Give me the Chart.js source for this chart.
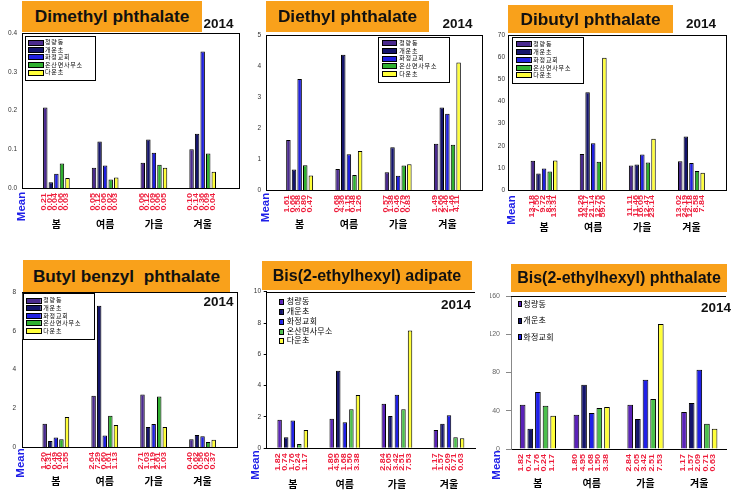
<!DOCTYPE html>
<html><head><meta charset="utf-8">
<script src="https://cdn.jsdelivr.net/npm/chart.js@4"></script>
<style>
html,body{margin:0;padding:0;background:#fff;}
body{width:739px;height:496px;position:relative;overflow:hidden;font-family:"Liberation Sans",Arial,"Noto Sans CJK KR",sans-serif;}
canvas{position:absolute;}
.title{position:absolute;background:#F9A11B;color:#111;font-weight:bold;display:flex;align-items:center;justify-content:center;white-space:pre;z-index:2;}
.yr{position:absolute;font-weight:bold;font-size:13.5px;color:#111;width:40px;text-align:center;line-height:14px;z-index:2;}
</style></head><body>
<canvas id="c1" width="245" height="248" style="left:0;top:0"></canvas>
<canvas id="c2" width="245" height="248" style="left:245px;top:0"></canvas>
<canvas id="c3" width="249" height="248" style="left:490px;top:0"></canvas>
<canvas id="c4" width="245" height="248" style="left:0;top:248px"></canvas>
<canvas id="c5" width="245" height="248" style="left:245px;top:248px"></canvas>
<canvas id="c6" width="249" height="248" style="left:490px;top:248px"></canvas>
<div id="decor"></div>
<script>
const FONT = '"Liberation Sans", Arial, "Noto Sans CJK KR", sans-serif';
const seasons = ['봄','여름','가을','겨울'];
const sites = ['청량동','개운초','화정교회','온산면사무소','다운초'];
const yearLabel = '2014';
const meanWord = 'Mean';

// Dimethyl phthalate  [site][season]
const dmpMean = [[0.21,0.05,0.06,0.10],[0.01,0.12,0.12,0.14],[0.04,0.06,0.09,0.36],[0.06,0.02,0.06,0.09],[0.03,0.03,0.05,0.04]];
const dmpBar  = [[0.208,0.052,0.065,0.100],[0.015,0.120,0.125,0.140],[0.037,0.058,0.091,0.352],[0.063,0.022,0.060,0.089],[0.026,0.027,0.052,0.042]];
const dmpTicks = [0,0.1,0.2,0.3,0.4];
// Diethyl phthalate
const depMean = [[1.61,0.68,0.57,1.49],[0.66,4.36,1.38,2.66],[3.58,1.15,0.46,2.46],[0.80,0.48,0.79,1.46],[0.47,1.26,0.83,4.11]];
const depTicks = [0,1,2,3,4,5];
// Dibutyl phthalate
const dbpMean = [[13.18,16.26,11.11,13.02],[7.50,44.17,11.46,24.19],[9.72,21.14,16.05,12.18],[8.34,12.75,12.47,8.58],[13.31,59.76,23.14,7.84]];
const dbpTicks = [0,10,20,30,40,50,60,70];
// Butyl benzyl phthalate
const bbpMean = [[1.20,2.64,2.71,0.40],[0.31,7.29,1.03,0.62],[0.49,0.60,1.19,0.56],[0.40,1.61,2.61,0.26],[1.55,1.13,1.03,0.37]];
const bbpTicks = [0,2,4,6,8];
// Bis(2-ethylhexyl) adipate
const dehaMean = [[1.82,1.80,2.84,1.17],[0.74,4.95,2.05,1.57],[1.76,1.68,3.42,2.09],[0.24,1.50,2.51,0.71],[1.17,3.38,7.53,0.63]];
const dehaBar  = [[1.82,1.88,2.84,1.17],[0.70,4.96,2.07,1.56],[1.77,1.67,3.42,2.11],[0.28,2.50,2.50,0.70],[1.17,3.40,7.52,0.64]];
const dehaTicks = [0,2,4,6,8,10];
// Bis(2-ethylhexyl) phthalate
const dehpMean = [[1.82,1.80,2.84,1.17],[0.74,4.95,2.05,1.57],[1.76,1.68,3.42,2.09],[0.24,1.50,2.51,0.71],[1.17,3.38,7.53,0.63]];
const dehpBar  = [[46.3,35.8,46.3,38.6],[21.2,67.1,31.3,48.0],[59.5,37.6,72.3,82.8],[45.2,42.8,52.2,26.4],[34.8,43.8,130.8,21.2]];
const dehpTicks = [0,40,80,120,160];

const PAL_A = ['#4A2A8E','#14146B','#2020E0','#30B030','#FFFF3A'];
const PAL_B = ['#5A22B8','#14146B','#2020E8','#4CC04C','#FFFF3A'];

const panels = [
 {el:'c1', ox:0, oy:0, w:245, h:248, title:'Dimethyl phthalate', tbox:[22,1,180,31], tfs:17.3, yr:[218.5,24],
  mean:dmpMean, bar:dmpBar, ticks:dmpTicks, dec:1, area:{l:32,r:228,t:33,b:188}, frame:{type:'box',l:22,r:239},
  tickPad:15, tickLen:0, tickFont:6.5, axisColor:'#000', cat:0.57, barPct:0.8, seasonPad:31, meanXY:[22,206.5],
  legend:{type:'box', box:[25,36,70,44], sx:28, sw:15, ys:[42.7,50,57.3,65.3,72.7], tx:45, n:5, font:6}, pal:PAL_A},
 {el:'c2', ox:245, oy:0, w:245, h:248, title:'Diethyl phthalate', tbox:[266,1,163,31], tfs:17.3, yr:[457.5,24],
  mean:depMean, bar:depMean, ticks:depTicks, dec:0, area:{l:30,r:227,t:35,b:190}, frame:{type:'box',l:21,r:237},
  tickPad:14, tickLen:0, tickFont:6.5, axisColor:'#000', cat:0.57, barPct:0.8, seasonPad:29, meanXY:[21,207.5],
  legend:{type:'box', box:[133.3,36.7,70.7,45], sx:137.3, sw:14.4, ys:[43.3,51,58.7,66.3,74], tx:154.3, n:5, font:6}, pal:PAL_A},
 {el:'c3', ox:490, oy:0, w:249, h:248, title:'Dibutyl phthalate', tbox:[508,5,165,28], tfs:17.3, yr:[701,24],
  mean:dbpMean, bar:dbpMean, ticks:dbpTicks, dec:0, area:{l:29.5,r:226,t:35,b:190}, frame:{type:'box',l:18,r:236},
  tickPad:14.5, tickLen:0, tickFont:6.5, axisColor:'#000', cat:0.57, barPct:0.8, seasonPad:32, meanXY:[22,210],
  legend:{type:'box', box:[21.7,37.3,70.6,46], sx:26, sw:14.7, ys:[44.3,52.3,60,68,75.3], tx:43.3, n:5, font:6}, pal:PAL_A},
 {el:'c4', ox:0, oy:248, w:245, h:248, title:'Butyl benzyl  phthalate', tbox:[23,260,207,32], tfs:17.2, yr:[218.5,301.7],
  mean:bbpMean, bar:bbpMean, ticks:bbpTicks, dec:0, area:{l:31.4,r:227,t:44,b:199}, frame:{type:'box',l:22,r:237},
  tickPad:15.4, tickLen:0, tickFont:6.5, axisColor:'#000', cat:0.57, barPct:0.8, seasonPad:29.5, meanXY:[20.5,215],
  legend:{type:'box', box:[22.7,45.3,70.6,46], sx:26, sw:14.7, ys:[52.7,60.3,68,75.3,83], tx:43.3, n:5, font:6}, pal:PAL_A},
 {el:'c5', ox:245, oy:248, w:245, h:248, title:'Bis(2-ethylhexyl) adipate', tbox:[262,261,210,29], tfs:16, yr:[456,305],
  mean:dehaMean, bar:dehaBar, ticks:dehaTicks, dec:0, area:{l:21.7,r:234.5,t:43.7,b:200.3}, frame:{type:'open'},
  tickPad:2.7, tickLen:3, tickFont:6.5, axisColor:'#000', cat:0.63, barPct:0.68, seasonPad:30.5, meanXY:[11,217],
  legend:{type:'marker', mx:34.3, mw:3.6, ys:[53.7,63.7,73.7,83.7,93], tx:41.7, n:5, font:8}, pal:PAL_B},
 {el:'c6', ox:490, oy:248, w:249, h:248, title:'Bis(2-ethylhexyl) phthalate', tbox:[511,264,216,28], tfs:16, yr:[716,308],
  mean:dehpMean, bar:dehpBar, ticks:dehpTicks, dec:0, area:{l:21,r:237,t:48,b:201}, frame:{type:'open'},
  tickPad:6, tickLen:5, tickFont:7, axisColor:'#888', cat:0.71, barPct:0.74, seasonPad:29, meanXY:[7,217],
  legend:{type:'marker', mx:28.3, mw:3, ys:[56.3,72.7,89.3], tx:33.3, n:3, font:8}, pal:PAL_B}
];

function decorPlugin(p){
  return {id:'decor', afterDraw(chart){
    const ctx = chart.ctx, a = chart.chartArea;
    ctx.save();
    ctx.lineWidth = 1; ctx.strokeStyle = '#000';
    const T = Math.round(a.top)+0.5, B = Math.round(a.bottom)+0.5;
    if (p.frame.type === 'box') {
      const L = Math.round(p.frame.l)+0.5, R = Math.round(p.frame.r)+0.5;
      ctx.strokeRect(L, T, R-L, B-T);
    } else {
      ctx.beginPath(); ctx.moveTo(Math.round(a.left), T); ctx.lineTo(Math.round(a.right), T); ctx.stroke();
    }
    // legend
    const lg = p.legend;
    if (lg.type === 'box') {
      ctx.fillStyle = '#fff';
      ctx.fillRect(lg.box[0], lg.box[1], lg.box[2], lg.box[3]);
      ctx.strokeRect(Math.round(lg.box[0])+0.5, Math.round(lg.box[1])+0.5, Math.round(lg.box[2]), Math.round(lg.box[3]));
    }
    ctx.font = lg.font + 'px ' + FONT;
    ctx.textBaseline = 'middle'; ctx.textAlign = 'left';
    try { ctx.letterSpacing = lg.type === 'box' ? '0.8px' : '0.3px'; } catch(e) {}
    for (let i = 0; i < lg.n; i++) {
      const y = lg.ys[i];
      ctx.fillStyle = p.pal[i];
      if (lg.type === 'box') {
        ctx.fillRect(lg.sx, Math.round(y)-2, lg.sw, 5);
        ctx.strokeRect(Math.round(lg.sx)+0.5, Math.round(y)-2.5, Math.round(lg.sw), 5);
      } else {
        ctx.fillRect(lg.mx, y-2.5, lg.mw, 5);
        ctx.strokeStyle = '#000';
        ctx.strokeRect(Math.round(lg.mx)+0.5, Math.round(y)-2.5, Math.round(lg.mw), 5);
      }
      ctx.fillStyle = '#000';
      ctx.fillText(sites[i], lg.tx, y);
    }
    try { ctx.letterSpacing = '0px'; } catch(e) {}
    // mean value labels under bars
    ctx.fillStyle = '#EE1C3A';
    ctx.font = 'bold 9px ' + FONT;
    chart.data.datasets.forEach((ds, i) => {
      const meta = chart.getDatasetMeta(i);
      meta.data.forEach((bar, j) => {
        ctx.save();
        ctx.translate(bar.x - 1, a.bottom + 5);
        ctx.rotate(-Math.PI/2);
        ctx.scale(1, 0.75);
        ctx.textAlign = 'right'; ctx.textBaseline = 'middle';
        ctx.fillText(p.mean[i][j].toFixed(2), 0, 0);
        ctx.restore();
      });
    });
    // "Mean"
    ctx.save();
    ctx.translate(p.meanXY[0], p.meanXY[1]);
    ctx.rotate(-Math.PI/2);
    ctx.fillStyle = '#1F1FE8';
    ctx.font = 'bold 11.5px ' + FONT;
    ctx.textAlign = 'center'; ctx.textBaseline = 'middle';
    ctx.fillText(meanWord, 0, 0);
    ctx.restore();
    ctx.restore();
  }};
}

function makeChart(p){
  const open = p.frame.type === 'open';
  const datasets = sites.map((s, i) => ({
    label: s, data: p.bar[i], backgroundColor: p.pal[i], borderColor: '#000', borderWidth: 1,
    categoryPercentage: p.cat, barPercentage: p.barPct
  }));
  new Chart(document.getElementById(p.el), {
    type: 'bar',
    data: {labels: seasons, datasets},
    options: {
      responsive: false, animation: false, devicePixelRatio: 1,
      layout: {padding: {top: p.area.t, right: p.w - p.area.r, left: 0, bottom: 0}},
      scales: {
        x: {
          offset: true,
          grid: {display: false, drawTicks: false},
          border: {display: open, color: '#000'},
          ticks: {padding: p.seasonPad, color: '#000', font: {size: 10, weight: 'bold', family: FONT}, maxRotation: 0, autoSkip: false},
          afterFit: (s) => { s.height = p.h - p.area.b; }
        },
        y: {
          min: 0, max: p.ticks[p.ticks.length-1],
          grid: {display: open, drawOnChartArea: false, drawTicks: open, tickLength: p.tickLen, color: p.axisColor},
          border: {display: open, color: p.axisColor},
          ticks: {padding: p.tickPad, color: open && p.axisColor !== '#000' ? '#666' : '#333', font: {size: p.tickFont, family: FONT},
                  callback: (v) => Number(v).toFixed(p.dec)},
          afterBuildTicks: (s) => { s.ticks = p.ticks.map(v => ({value: v})); },
          afterFit: (s) => { s.width = p.area.l; }
        }
      },
      plugins: {legend: {display: false}, tooltip: {enabled: false}}
    },
    plugins: [decorPlugin(p)]
  });
  // title box and year (HTML text)
  const holder = document.getElementById('decor');
  const t = document.createElement('div');
  t.className = 'title';
  t.textContent = p.title;
  Object.assign(t.style, {left: p.tbox[0]+'px', top: p.tbox[1]+'px', width: p.tbox[2]+'px', height: p.tbox[3]+'px', fontSize: p.tfs+'px'});
  holder.appendChild(t);
  const y = document.createElement('div');
  y.className = 'yr';
  y.textContent = yearLabel;
  Object.assign(y.style, {left: (p.yr[0]-20)+'px', top: (p.yr[1]-7)+'px'});
  holder.appendChild(y);
}
panels.forEach(makeChart);
</script>
</body></html>
